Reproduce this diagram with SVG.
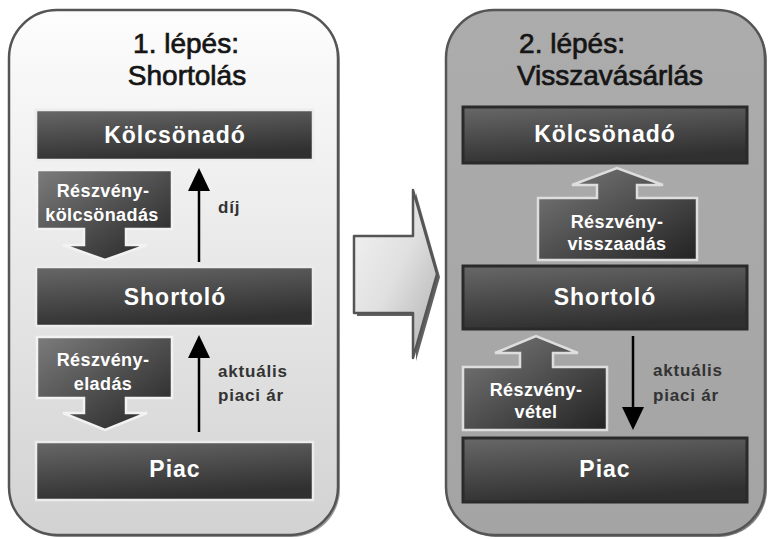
<svg xmlns="http://www.w3.org/2000/svg" width="768" height="539" viewBox="0 0 768 539">
  <style>
    text { font-family: "Liberation Sans", Arial, sans-serif; }
    .title { font-size: 28px; fill: #151515; stroke: #151515; stroke-width: 0.7; text-anchor: middle; }
    .lbl { font-size: 23px; font-weight: bold; fill: #ffffff; text-anchor: middle; letter-spacing: 1px; }
    .small { font-size: 18px; font-weight: bold; fill: #ffffff; text-anchor: middle; letter-spacing: 0.4px; }
    .note { font-size: 17px; font-weight: bold; fill: #333333; letter-spacing: 0.8px; }
    .boxL { fill: url(#boxGrad); stroke: #ececec; stroke-width: 2.5; }
    .boxR { fill: url(#boxGrad); stroke: #2a2a2a; stroke-width: 3; }
    .blockL { fill: url(#blockGrad); stroke: #f2f2f2; stroke-width: 2.5; }
    .blockR { fill: url(#blockGrad); stroke: #dedede; stroke-width: 2.5; }
    .conn { stroke: #000; stroke-width: 2.5; fill: none; }
  </style>
  <defs>
    <linearGradient id="panelL" x1="0" y1="0" x2="0" y2="1">
      <stop offset="0" stop-color="#fdfdfd"/>
      <stop offset="1" stop-color="#d2d2d2"/>
    </linearGradient>
    <linearGradient id="panelR" x1="0" y1="0" x2="0" y2="1">
      <stop offset="0" stop-color="#acacac"/>
      <stop offset="1" stop-color="#a4a4a4"/>
    </linearGradient>
    <linearGradient id="boxGrad" x1="0" y1="0" x2="0.3" y2="1">
      <stop offset="0" stop-color="#686868"/>
      <stop offset="1" stop-color="#303030"/>
    </linearGradient>
    <linearGradient id="blockGrad" x1="0" y1="0" x2="1" y2="1">
      <stop offset="0" stop-color="#7c7c7c"/>
      <stop offset="1" stop-color="#222222"/>
    </linearGradient>
    <linearGradient id="bigArrow" x1="0" y1="0" x2="1" y2="1">
      <stop offset="0" stop-color="#f4f4f4"/>
      <stop offset="0.5" stop-color="#e0e0e0"/>
      <stop offset="1" stop-color="#b0b0b0"/>
    </linearGradient>
  </defs>

  <!-- panels -->
  <g id="panel1">
    <rect x="11" y="12" width="329" height="525" rx="48" fill="#5a5a5a" opacity="0.6"/>
    <rect x="9" y="10" width="329" height="525" rx="48" fill="url(#panelL)" stroke="#555" stroke-width="2.5"/>
    <text class="title" x="186" y="53">1. lépés:</text>
    <text class="title" x="187" y="85">Shortolás</text>
  </g>
  <g id="panel2">
    <rect x="448" y="12" width="319" height="525" rx="48" fill="#4a4a4a" opacity="0.7"/>
    <rect x="446" y="10" width="319" height="525" rx="48" fill="url(#panelR)" stroke="#555" stroke-width="2.5"/>
    <text class="title" x="572" y="53">2. lépés:</text>
    <text class="title" x="610" y="85">Visszavásárlás</text>
  </g>

  <!-- big transition arrow -->
  <g id="stepArrow">
    <polygon points="357,239 416,239 416,193 440,277 416,361 416,316 357,316" fill="#3a3a3a" opacity="0.8"/>
    <polygon points="354,236 413,236 413,190 437,274 413,358 413,313 354,313" fill="url(#bigArrow)" stroke="#555" stroke-width="2.5" stroke-linejoin="round"/>
  </g>

  <!-- left panel nodes -->
  <g id="kolcsonado1">
    <rect class="boxL" x="36" y="110" width="277" height="50"/>
    <text class="lbl" x="175" y="143">Kölcsönadó</text>
  </g>
  <g id="shortolo1">
    <rect class="boxL" x="36" y="267" width="277" height="59"/>
    <text class="lbl" x="175" y="305">Shortoló</text>
  </g>
  <g id="piac1">
    <rect class="boxL" x="36" y="442" width="277" height="58"/>
    <text class="lbl" x="175" y="477">Piac</text>
  </g>
  <g id="reszvenykolcsonadas">
    <path class="blockL" d="M37,170 H172 V229 H126 V245 H147 L105,260 L63,245 H84 V229 H37 Z"/>
    <text class="small" x="103" y="197">Részvény-</text>
    <text class="small" x="102" y="221">kölcsönadás</text>
  </g>
  <g id="reszvenyeladas">
    <path class="blockL" d="M37,337 H172 V398 H126 V413 H147 L105,430 L63,413 H84 V398 H37 Z"/>
    <text class="small" x="103" y="366">Részvény-</text>
    <text class="small" x="103" y="390">eladás</text>
  </g>

  <!-- right panel nodes -->
  <g id="kolcsonado2">
    <rect class="boxR" x="463" y="107" width="284" height="56"/>
    <text class="lbl" x="605" y="142">Kölcsönadó</text>
  </g>
  <g id="shortolo2">
    <rect class="boxR" x="463" y="266" width="284" height="63"/>
    <text class="lbl" x="605" y="305">Shortoló</text>
  </g>
  <g id="piac2">
    <rect class="boxR" x="463" y="438" width="284" height="64"/>
    <text class="lbl" x="605" y="477">Piac</text>
  </g>
  <g id="reszvenyvisszaadas">
    <path class="blockR" d="M538,260 V198 H597 V185 H572 L617,168 L663,185 H637 V198 H697 V260 Z"/>
    <text class="small" x="617" y="228">Részvény-</text>
    <text class="small" x="617" y="250">visszaadás</text>
  </g>
  <g id="reszvenyvetel">
    <path class="blockR" d="M463,430 V367 H520 V353 H495 L536,336 L578,353 H553 V367 H607 V430 Z"/>
    <text class="small" x="536" y="396">Részvény-</text>
    <text class="small" x="536" y="418">vétel</text>
  </g>

  <!-- connectors -->
  <g id="connectors">
    <line class="conn" x1="199" y1="262" x2="199" y2="190"/>
    <polygon points="199,168 188,191 210,191" fill="#000"/>
    <line class="conn" x1="199" y1="432" x2="199" y2="357"/>
    <polygon points="199,335 188,358 210,358" fill="#000"/>
    <line class="conn" x1="633" y1="336" x2="633" y2="409"/>
    <polygon points="633,430 622,407 644,407" fill="#000"/>
    <text class="note" x="218" y="213">díj</text>
    <text class="note" x="218" y="377">aktuális</text>
    <text class="note" x="218" y="401">piaci ár</text>
    <text class="note" x="653" y="376">aktuális</text>
    <text class="note" x="653" y="401">piaci ár</text>
  </g>
</svg>
